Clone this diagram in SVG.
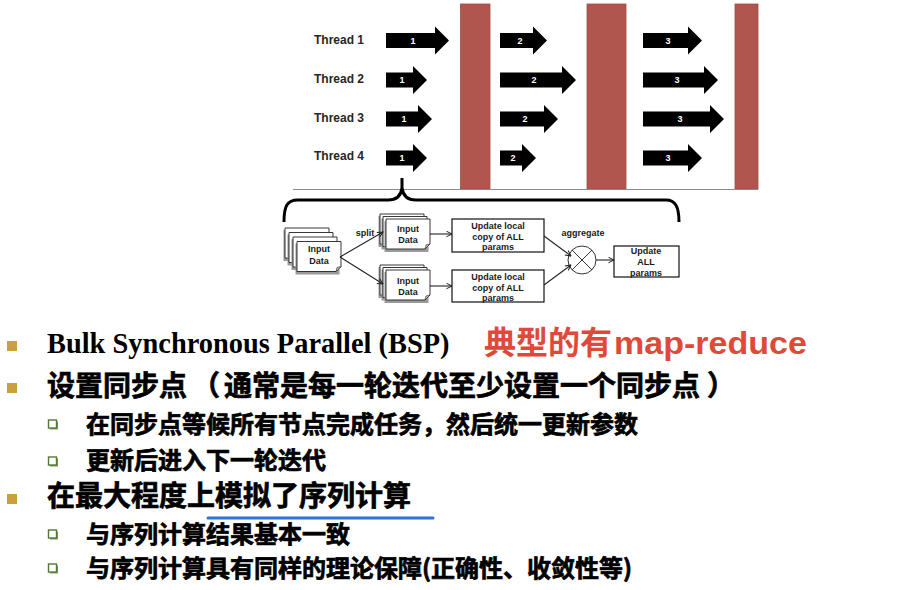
<svg xmlns="http://www.w3.org/2000/svg" width="902" height="590" viewBox="0 0 902 590">
  <defs>
    <style>
      .thread { font-family: "Liberation Sans", Arial, sans-serif; font-weight: bold; font-size: 12px; fill: #262626; }
      .arr { fill: #000; }
      .num { font-family: "Liberation Sans", Arial, sans-serif; font-weight: bold; font-size: 9px; fill: #fff; text-anchor: middle; }
      .bar { fill: #B1564F; stroke: #9E4B45; stroke-width: 0.8; }
      .small { font-family: "Liberation Sans", Arial, sans-serif; font-weight: bold; font-size: 9px; fill: #1a1a1a; text-anchor: middle; }
      .doc { fill: #fff; stroke: #222; stroke-width: 0.9; }
      .shadow { fill: #9a9a9a; }
      .box { fill: #fff; stroke: #111; stroke-width: 1.2; }
      .wire { fill: none; stroke: #222; stroke-width: 1.1; marker-end: url(#open); }
      .cn { font-family: "Noto Sans CJK SC", sans-serif; font-weight: 700; fill: #000; stroke: #000; stroke-width: 0.7; }
      .l1 { font-size: 28px; }
      .l2 { font-size: 24px; }
      .gold { fill: #C9A03B; }
      .hollow { fill: #fff; stroke: #4F7B34; stroke-width: 1.4; }
    </style>
    <marker id="open" viewBox="0 0 10 10" refX="9" refY="5" markerWidth="7" markerHeight="7" orient="auto" markerUnits="userSpaceOnUse">
      <path d="M1,1 L9,5 L1,9" fill="none" stroke="#222" stroke-width="1.4"/>
    </marker>
    <!-- page with a curled bottom-right corner, 44 x 30 -->
    <g id="page">
      <path class="shadow" d="M-1.5,2 h44 v31 h-44 z"/>
      <path class="doc" d="M0,0 h44 v25 l-5,5 h-39 z"/>
      <path d="M44,25 l-5,5 l1,-4 z" fill="#ccc" stroke="#222" stroke-width="0.6"/>
    </g>
  </defs>

  <!-- sync barriers -->
  <g id="barriers">
    <rect class="bar" x="460.5" y="4" width="29.5" height="185"/>
    <rect class="bar" x="587" y="4" width="39" height="185"/>
    <rect class="bar" x="735" y="4" width="23" height="185"/>
  </g>
  <line x1="293" y1="189.5" x2="758" y2="189.5" stroke="#8a8a8a" stroke-width="1.2"/>

  <!-- thread labels -->
  <g id="thread-labels">
    <text class="thread" x="314" y="43.5">Thread 1</text>
    <text class="thread" x="314" y="82.5">Thread 2</text>
    <text class="thread" x="314" y="121.5">Thread 3</text>
    <text class="thread" x="314" y="160">Thread 4</text>
  </g>

  <!-- work arrows: body ±7.5, head ±14, head length 14 -->
  <g id="work-arrows">
    <polygon class="arr" points="386,33 435,33 435,26.5 449,40.5 435,54.5 435,48 386,48"/>
    <text class="num" x="413" y="43.5">1</text>
    <polygon class="arr" points="386,72.5 413,72.5 413,66 427,80 413,94 413,87.5 386,87.5"/>
    <text class="num" x="402" y="83">1</text>
    <polygon class="arr" points="386,111.5 418,111.5 418,105 432,119 418,133 418,126.5 386,126.5"/>
    <text class="num" x="404" y="122">1</text>
    <polygon class="arr" points="386,150.5 413,150.5 413,144 427,158 413,172 413,165.5 386,165.5"/>
    <text class="num" x="402" y="161">1</text>

    <polygon class="arr" points="500,33 533,33 533,26.5 547,40.5 533,54.5 533,48 500,48"/>
    <text class="num" x="520" y="43.5">2</text>
    <polygon class="arr" points="500,72.5 562,72.5 562,66 576,80 562,94 562,87.5 500,87.5"/>
    <text class="num" x="534" y="83">2</text>
    <polygon class="arr" points="500,111.5 544,111.5 544,105 558,119 544,133 544,126.5 500,126.5"/>
    <text class="num" x="525" y="122">2</text>
    <polygon class="arr" points="500,150.5 522,150.5 522,144 536,158 522,172 522,165.5 500,165.5"/>
    <text class="num" x="513" y="161">2</text>

    <polygon class="arr" points="643,33 688,33 688,26.5 702,40.5 688,54.5 688,48 643,48"/>
    <text class="num" x="668" y="43.5">3</text>
    <polygon class="arr" points="643,72.5 704,72.5 704,66 718,80 704,94 704,87.5 643,87.5"/>
    <text class="num" x="677" y="83">3</text>
    <polygon class="arr" points="643,111.5 710,111.5 710,105 724,119 710,133 710,126.5 643,126.5"/>
    <text class="num" x="680" y="122">3</text>
    <polygon class="arr" points="643,150.5 688,150.5 688,144 702,158 688,172 688,165.5 643,165.5"/>
    <text class="num" x="668" y="161">3</text>
  </g>

  <!-- brace over one step -->
  <path id="brace" d="M284,222 C284,206 287,200 298,200 L388,200 C397,200 401,196 402,188 L402,178 M402,188 C403,196 407,200 416,200 L666,200 C675,200 679,206 679,222" fill="none" stroke="#000" stroke-width="3"/>

  <!-- one BSP step -->
  <g id="input-stack">
    <use href="#page" x="285" y="228"/>
    <use href="#page" x="289" y="232.5"/>
    <use href="#page" x="293" y="237"/>
    <use href="#page" x="297" y="241.5"/>
    <text class="small" x="319" y="252">Input</text>
    <text class="small" x="319" y="264">Data</text>
  </g>
  <g id="input-top">
    <use href="#page" x="380" y="214"/>
    <use href="#page" x="383" y="216.5"/>
    <use href="#page" x="386" y="219"/>
    <text class="small" x="408" y="232">Input</text>
    <text class="small" x="408" y="243">Data</text>
  </g>
  <g id="input-bottom">
    <use href="#page" x="380" y="265"/>
    <use href="#page" x="383" y="267.5"/>
    <use href="#page" x="386" y="270"/>
    <text class="small" x="408" y="284">Input</text>
    <text class="small" x="408" y="295">Data</text>
  </g>
  <g id="local-top">
    <rect class="box" x="452" y="219" width="92" height="33"/>
    <text class="small" x="498" y="229">Update local</text>
    <text class="small" x="498" y="239.5">copy of ALL</text>
    <text class="small" x="498" y="250">params</text>
  </g>
  <g id="local-bottom">
    <rect class="box" x="452" y="270" width="92" height="32"/>
    <text class="small" x="498" y="280">Update local</text>
    <text class="small" x="498" y="290.5">copy of ALL</text>
    <text class="small" x="498" y="301">params</text>
  </g>
  <g id="aggregate">
    <circle cx="582" cy="260" r="14" fill="#fff" stroke="#333" stroke-width="1"/>
    <path d="M572,250 L592,270 M592,250 L572,270" stroke="#333" stroke-width="1"/>
    <text class="small" x="583" y="236">aggregate</text>
  </g>
  <g id="update-all">
    <rect class="box" x="614" y="246" width="65" height="31"/>
    <text class="small" x="646" y="254">Update</text>
    <text class="small" x="646" y="265">ALL</text>
    <text class="small" x="646" y="276">params</text>
  </g>

  <g id="connectors">
    <path class="wire" d="M340,257 L383,232"/>
    <path class="wire" d="M340,257 L383,284"/>
    <path class="wire" d="M430,234 L452,234"/>
    <path class="wire" d="M430,286 L452,286"/>
    <path class="wire" d="M544,236 L571,256"/>
    <path class="wire" d="M544,285 L571,265"/>
    <path class="wire" d="M596,260 L614,260"/>
    <text class="small" x="365" y="236" fill="#3a3040">split</text>
  </g>

  <!-- bullet list -->
  <g id="bullets">
    <rect class="gold" x="7" y="341" width="10" height="10"/>
    <rect class="gold" x="7" y="383" width="10" height="10"/>
    <rect class="gold" x="7" y="494" width="10" height="10"/>
    <rect x="50" y="421.5" width="8" height="8" fill="#7a9a5a"/>
    <rect class="hollow" x="48.5" y="420" width="8" height="8"/>
    <rect x="50" y="458.5" width="8" height="8" fill="#7a9a5a"/>
    <rect class="hollow" x="48.5" y="457" width="8" height="8"/>
    <rect x="50" y="531.5" width="8" height="8" fill="#7a9a5a"/>
    <rect class="hollow" x="48.5" y="530" width="8" height="8"/>
    <rect x="50" y="565.5" width="8" height="8" fill="#7a9a5a"/>
    <rect class="hollow" x="48.5" y="564" width="8" height="8"/>
  </g>

  <g id="text">
    <text x="47" y="353" font-family="'Liberation Serif', 'Times New Roman', serif" font-weight="bold" font-size="28.4" fill="#000">Bulk Synchronous Parallel (BSP)</text>
    <text y="354" font-weight="bold" fill="#DE4A39"><tspan x="484" font-family="'Noto Sans CJK SC', sans-serif" font-size="32">典型的有</tspan><tspan x="614" font-family="'Liberation Sans', Arial, sans-serif" font-size="31" textLength="193" lengthAdjust="spacingAndGlyphs">map-reduce</tspan></text>
    <text class="cn l1" y="396"><tspan x="47">设置同步点</tspan><tspan x="192">（</tspan><tspan x="224">通常是每一轮迭代至少设置一个同步点</tspan><tspan x="707">）</tspan></text>
    <text class="cn l2" x="86" y="433">在同步点等候所有节点完成任务，然后统一更新参数</text>
    <text class="cn l2" x="86" y="469">更新后进入下一轮迭代</text>
    <text class="cn l1" x="47" y="506">在最大程度上模拟了序列计算</text>
    <text class="cn l2" x="86" y="543">与序列计算结果基本一致</text>
    <text class="cn l2" x="86" y="577">与序列计算具有同样的理论保障(正确性、收敛性等)</text>
    <line x1="208" y1="518" x2="433" y2="518" stroke="#2F6FE0" stroke-width="3" stroke-linecap="round"/>
  </g>
</svg>
